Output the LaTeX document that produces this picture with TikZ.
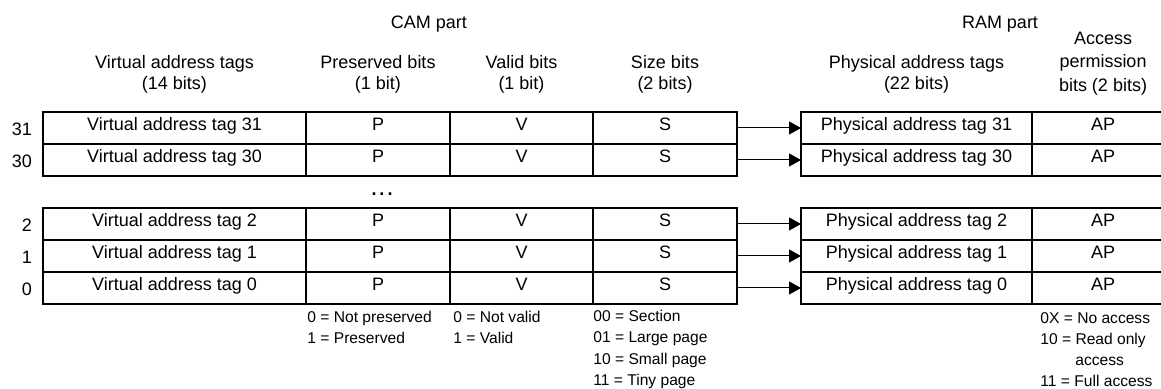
\documentclass[tikz,border=0pt]{standalone}
\usepackage{fontspec}
\setmainfont{Liberation Sans}
\usetikzlibrary{arrows.meta}

\tikzset{
  cell/.style={draw, line width=0.7pt, inner xsep=0pt, inner ysep=0pt, outer sep=0pt,
    minimum height=16pt, text height=9.2pt, text depth=6.8pt},
  head/.style={align=center},
  note/.style={align=left, anchor=north west, inner sep=0pt, font=\fontsize{7.8}{10.6}\selectfont},
  arr/.style={-{Triangle[length=6pt,width=6.5pt]}, line width=0.5pt},
}

\begin{document}
\begin{tikzpicture}[x=0.5pt, y=-0.5pt, font=\fontsize{9}{10.65}\selectfont]
\useasboundingbox (0,0) rectangle (1161,389);

% headings
\node (cam) at (429,24) {CAM part};
\node (ram) at (1000,24) {RAM part};
\node[head] (hva) at (174.5,74) {Virtual address tags\\(14 bits)};
\node[head] (hp) at (378,74) {Preserved bits\\(1 bit)};
\node[head] (hv) at (521.5,74) {Valid bits\\(1 bit)};
\node[head] (hs) at (665,74) {Size bits\\(2 bits)};
\node[head] (hpa) at (916.5,74) {Physical address tags\\(22 bits)};
\node[head, font=\fontsize{9}{11.7}\selectfont] (hap) at (1103,63.5) {Access\\permission\\bits (2 bits)};

% entries
\foreach \r/\y in {31/128, 30/160, 2/224, 1/256, 0/288} {
  \node[anchor=east] (n\r) at (39,\y+1) {\r};
  \node[cell, minimum width=131.5pt] (va\r) at (174.5,\y) {Virtual address tag \r};
  \node[cell, minimum width=72pt] (p\r) at (378,\y) {P};
  \node[cell, minimum width=71.5pt] (v\r) at (521.5,\y) {V};
  \node[cell, minimum width=72pt] (s\r) at (665,\y) {S};
  \node[cell, minimum width=115.5pt] (pa\r) at (916.5,\y) {Physical address tag \r};
  \node[cell, minimum width=71pt] (ap\r) at (1103,\y) {AP};
  \draw[arr] (s\r) -- (pa\r);
}
\node[anchor=base] (dots) at (382,195.5) {\textbf{.\,.\,.}};

% bit meanings
\node[note] (np) at (307,310.5) {0 = Not preserved\\1 = Preserved};
\node[note] (nv) at (453,310.5) {0 = Not valid\\1 = Valid};
\node[note] (ns) at (593,310) {00 = Section\\01 = Large page\\10 = Small page\\11 = Tiny page};
\node[note, font=\fontsize{7.8}{10.45}\selectfont] (nap) at (1040,312.5) {0X = No access\\10 = Read only\\\hspace{17.5pt}access\\11 = Full access};
\end{tikzpicture}
\end{document}
